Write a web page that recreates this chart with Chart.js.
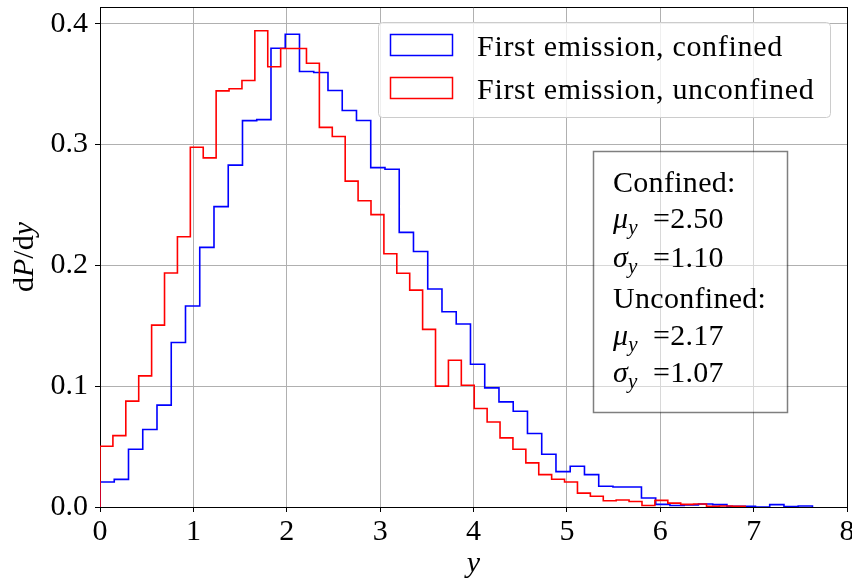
<!DOCTYPE html>
<html><head><meta charset="utf-8">
<script src="https://cdn.jsdelivr.net/npm/chart.js@4/dist/chart.umd.min.js"></script>
<style>html,body{margin:0;padding:0;background:#fff}#wrap{width:852px;height:581px}</style>
</head><body><div id="wrap"><canvas id="c" width="852" height="581"></canvas></div>
<script>
// ---- data ----
const confinedValues = [
  0.0207, 0.0229, 0.0478, 0.0641, 0.0843, 0.1362, 0.1663, 0.2149, 0.2486, 0.2829,
  0.3198, 0.3206, 0.3796, 0.3912, 0.3604, 0.3596, 0.3447, 0.3281, 0.3199, 0.2809,
  0.2795, 0.2273, 0.2114, 0.1804, 0.1616, 0.1514, 0.1182, 0.0986, 0.0870, 0.0793,
  0.0608, 0.0437, 0.0293, 0.0337, 0.0268, 0.0172, 0.0165, 0.0165, 0.0075, 0.0022,
  0.0012, 0.0018, 0.0025, 0.0020, 0.0006, 0.0006, 0.0000, 0.0020, 0.0003, 0.0008
];
const unconfinedValues = [
  0.0503, 0.0591, 0.0876, 0.1085, 0.1505, 0.1936, 0.2237, 0.2977, 0.2889, 0.3444,
  0.3461, 0.3530, 0.3941, 0.3644, 0.3794, 0.3794, 0.3672, 0.3142, 0.3066, 0.2697,
  0.2534, 0.2420, 0.2096, 0.1934, 0.1795, 0.1470, 0.1000, 0.1215, 0.1008, 0.0815,
  0.0704, 0.0572, 0.0478, 0.0365, 0.0268, 0.0230, 0.0207, 0.0115, 0.0089, 0.0052,
  0.0058, 0.0045, 0.0012, 0.0055, 0.0032, 0.0022, 0.0025, 0.0006, 0.0008, 0.0006
];
const confinedRange = [0, 7.63];
const unconfinedRange = [0, 6.91];
const xTicks = [0, 1, 2, 3, 4, 5, 6, 7, 8];
const yTicks = [0, 0.1, 0.2, 0.3, 0.4];
const seriesLabels = ['First emission, confined', 'First emission, unconfined'];
const seriesColors = ['#0000ff', '#ff0000'];
const statsConfined = { mu: '2.50', sigma: '1.10' };
const statsUnconfined = { mu: '2.17', sigma: '1.07' };

// ---- helpers ----
const FONT = 'Liberation Serif';
function stepPoints(values, range) {
  const w = (range[1] - range[0]) / values.length;
  const pts = [{ x: range[0], y: 0 }];
  values.forEach((v, i) => pts.push({ x: range[0] + i * w, y: v }));
  pts.push({ x: range[0] + values.length * w, y: 0 });
  return pts;
}

const overlay = {
  id: 'overlay',
  afterDraw(chart) {
    const ctx = chart.ctx;
    const a = chart.chartArea;
    ctx.save();
    // top and right spines
    ctx.strokeStyle = '#000';
    ctx.lineWidth = 1;
    ctx.beginPath();
    ctx.moveTo(a.left, Math.round(a.top) + 0.5);
    ctx.lineTo(a.right + 0.5, Math.round(a.top) + 0.5);
    ctx.moveTo(Math.round(a.right) + 0.5, a.top);
    ctx.lineTo(Math.round(a.right) + 0.5, a.bottom + 0.5);
    ctx.stroke();

    // legend
    ctx.beginPath();
    ctx.roundRect(378.5, 22.5, 452, 95, 4);
    ctx.fillStyle = 'rgba(255,255,255,0.8)';
    ctx.fill();
    ctx.strokeStyle = '#cccccc';
    ctx.lineWidth = 1;
    ctx.stroke();
    const rows = [56, 99];
    ctx.font = '30px "' + FONT + '"';
    ctx.textBaseline = 'alphabetic';
    ctx.textAlign = 'left';
    ctx.letterSpacing = '0.7px';
    rows.forEach((b, i) => {
      ctx.strokeStyle = seriesColors[i];
      ctx.lineWidth = 1.5;
      ctx.strokeRect(390.5, b - 21.5, 62, 21);
      ctx.fillStyle = '#000';
      ctx.fillText(seriesLabels[i], 477, b);
    });
    ctx.letterSpacing = '0px';

    // stats text box
    ctx.beginPath();
    ctx.rect(593.5, 151.5, 194, 261);
    ctx.fillStyle = 'rgba(255,255,255,0.5)';
    ctx.fill();
    ctx.strokeStyle = 'rgba(0,0,0,0.5)';
    ctx.lineWidth = 1.5;
    ctx.stroke();
    ctx.fillStyle = '#000';
    function mathLine(sym, val, base) {
      ctx.font = 'italic 30px "' + FONT + '"';
      ctx.fillText(sym, 613, base);
      const w = ctx.measureText(sym).width;
      ctx.font = 'italic 21px "' + FONT + '"';
      ctx.fillText('y', 613 + w, base + 6);
      ctx.font = '30px "' + FONT + '"';
      ctx.fillText('=' + val, 653, base);
    }
    ctx.letterSpacing = '0.3px';
    ctx.font = '30px "' + FONT + '"';
    ctx.fillText('Confined:', 613, 192);
    mathLine('\u03bc', statsConfined.mu, 228);
    mathLine('\u03c3', statsConfined.sigma, 267);
    ctx.font = '30px "' + FONT + '"';
    ctx.fillText('Unconfined:', 613, 308);
    mathLine('\u03bc', statsUnconfined.mu, 345);
    mathLine('\u03c3', statsUnconfined.sigma, 382);
    ctx.letterSpacing = '0px';

    // y axis title dP/dy
    const segs = [['d', ''], ['P', 'italic '], ['/', ''], ['d', ''], ['y', 'italic ']];
    let total = 0;
    segs.forEach(s => { ctx.font = s[1] + '30px "' + FONT + '"'; total += ctx.measureText(s[0]).width; });
    ctx.translate(33, (a.top + a.bottom) / 2);
    ctx.rotate(-Math.PI / 2);
    let x = -total / 2;
    segs.forEach(s => {
      ctx.font = s[1] + '30px "' + FONT + '"';
      ctx.fillText(s[0], x, 0);
      x += ctx.measureText(s[0]).width;
    });
    ctx.setTransform(1, 0, 0, 1, 0, 0);

    // x axis title
    ctx.font = 'italic 30px "' + FONT + '"';
    ctx.textAlign = 'center';
    ctx.fillText('y', (a.left + a.right) / 2, 572);
    ctx.restore();
  }
};

const tickFont = { family: FONT, size: 30 };
new Chart(document.getElementById('c'), {
  type: 'line',
  data: {
    datasets: [
      { label: seriesLabels[1], data: stepPoints(unconfinedValues, unconfinedRange),
        borderColor: seriesColors[1], borderWidth: 1.6, stepped: true, pointRadius: 0, fill: false },
      { label: seriesLabels[0], data: stepPoints(confinedValues, confinedRange),
        borderColor: seriesColors[0], borderWidth: 1.6, stepped: true, pointRadius: 0, fill: false }
    ]
  },
  options: {
    responsive: false,
    animation: false,
    devicePixelRatio: 1,
    layout: { padding: { top: 7, right: 5, left: 0, bottom: 0 } },
    plugins: { legend: { display: false }, tooltip: { enabled: false } },
    scales: {
      x: {
        type: 'linear', min: 0, max: 8,
        afterBuildTicks(s) { s.ticks = xTicks.map(v => ({ value: v })); },
        ticks: { font: tickFont, color: '#000', padding: 2, maxRotation: 0, autoSkip: false,
                 callback: v => String(v) },
        grid: { color: '#b0b0b0', lineWidth: 1, tickLength: 5, tickColor: '#000', tickWidth: 1 },
        border: { color: '#000', width: 1 },
        afterFit(s) { s.height = 74; s.paddingLeft = 0; s.paddingRight = 0; }
      },
      y: {
        type: 'linear', min: 0, max: 0.4138,
        afterBuildTicks(s) { s.ticks = yTicks.map(v => ({ value: v })); },
        ticks: { font: tickFont, color: '#000', padding: 7, callback: v => v.toFixed(1) },
        grid: { color: '#b0b0b0', lineWidth: 1, tickLength: 5, tickColor: '#000', tickWidth: 1 },
        border: { color: '#000', width: 1 },
        afterFit(s) { s.width = 100; s.paddingTop = 0; s.paddingBottom = 0; }
      }
    }
  },
  plugins: [overlay]
});
</script></body></html>
